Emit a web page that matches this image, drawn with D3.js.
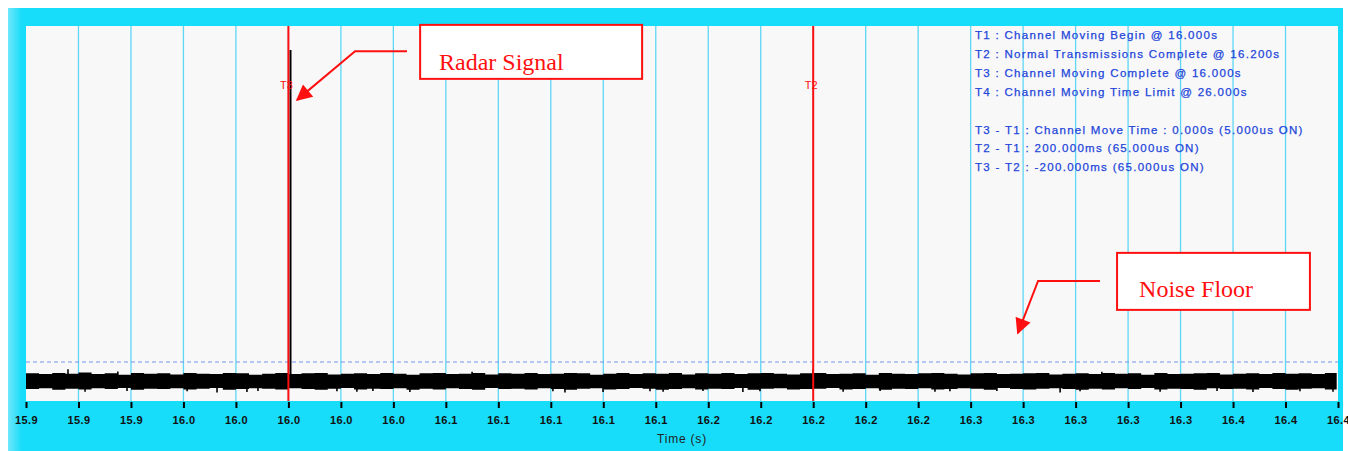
<!DOCTYPE html>
<html>
<head>
<meta charset="utf-8">
<script src="https://cdn.jsdelivr.net/npm/d3@7"></script>
<style>
    body { margin: 0; background: #fff; }
    svg { display: block; }
</style>
</head>
<body>
<div id="chart"></div>
<script>
// time axis (s)
const timeDomain = [15.90, 16.40];
const tickTimes = [15.90, 15.92, 15.94, 15.96, 15.98, 16.00, 16.02, 16.04, 16.06, 16.08,
                   16.10, 16.12, 16.14, 16.16, 16.18, 16.20, 16.22, 16.24, 16.26, 16.28,
                   16.30, 16.32, 16.34, 16.36, 16.38, 16.40];
const tickLabels = ["15.9", "15.9", "15.9", "16.0", "16.0", "16.0", "16.0", "16.0", "16.1", "16.1",
                    "16.1", "16.1", "16.1", "16.2", "16.2", "16.2", "16.2", "16.2", "16.3", "16.3",
                    "16.3", "16.3", "16.3", "16.4", "16.4", "16.4"];

// event markers
const markerNames = ["T3", "T2"];
const markerTimes = [16.000, 16.200];

// signal level (0 = bottom of plot, 100 = top)
const thresholdLevel = 10.4;
const radarTime = 16.0008;
const radarLevel = 93.6;

// noise floor envelope, one pair every 5 ms from 15.900 s
const sampleStep = 0.005;
const noiseTop = [7.4, 7.2, 7.5, 7.3, 7.6, 7.2, 7.4, 7.0, 7.5, 7.3,
                  7.4, 7.1, 7.5, 7.3, 7.2, 7.5, 7.4, 7.0, 7.3, 7.5,
                  7.2, 7.4, 7.5, 7.1, 7.3, 7.4, 7.2, 7.5, 7.3, 7.0,
                  7.4, 7.5, 7.2, 7.3, 7.5, 7.1, 7.4, 7.3, 7.5, 7.2,
                  7.3, 7.5, 7.4, 7.0, 7.3, 7.5, 7.2, 7.4, 7.3, 7.5,
                  7.1, 7.4, 7.3, 7.5, 7.2, 7.4, 7.5, 7.3, 7.1, 7.4,
                  7.5, 7.2, 7.3, 7.4, 7.0, 7.5, 7.3, 7.2, 7.4, 7.5,
                  7.3, 7.1, 7.4, 7.5, 7.2, 7.3, 7.4, 7.5, 7.1, 7.3,
                  7.4, 7.2, 7.5, 7.3, 7.4, 7.0, 7.5, 7.2, 7.3, 7.4,
                  7.5, 7.1, 7.3, 7.4, 7.2, 7.5, 7.3, 7.4, 7.2, 7.5,
                  7.3];
const noiseBottom = [3.2, 3.4, 3.0, 3.3, 3.1, 3.4, 3.2, 3.5, 3.0, 3.3,
                     3.2, 3.4, 3.1, 3.3, 3.5, 3.0, 3.2, 3.4, 3.3, 3.1,
                     3.4, 3.2, 3.0, 3.3, 3.5, 3.1, 3.3, 3.2, 3.4, 3.0,
                     3.3, 3.1, 3.4, 3.2, 3.0, 3.5, 3.2, 3.3, 3.1, 3.4,
                     3.2, 3.0, 3.3, 3.4, 3.1, 3.2, 3.5, 3.3, 3.0, 3.2,
                     3.4, 3.1, 3.3, 3.2, 3.5, 3.0, 3.3, 3.4, 3.1, 3.2,
                     3.3, 3.5, 3.1, 3.2, 3.4, 3.0, 3.3, 3.2, 3.4, 3.1,
                     3.2, 3.4, 3.3, 3.0, 3.5, 3.2, 3.1, 3.3, 3.4, 3.2,
                     3.0, 3.3, 3.1, 3.4, 3.2, 3.5, 3.1, 3.3, 3.2, 3.0,
                     3.4, 3.2, 3.3, 3.1, 3.5, 3.2, 3.0, 3.3, 3.4, 3.1,
                     3.3];

// short excursions out of the noise band
const dipTimes = [15.9225, 15.9385, 15.9614, 15.9728, 15.9842, 15.9884, 16.0185, 16.0261, 16.0322, 16.0463,
                  16.1008, 16.1054, 16.1199, 16.1378, 16.1428, 16.1580, 16.1732, 16.1797, 16.2114, 16.2255,
                  16.2464, 16.2521, 16.2700, 16.2941, 16.3017, 16.3322, 16.3539, 16.3676, 16.3855, 16.3981];
const dipLevels = [2.5, 2.7, 2.6, 2.3, 2.4, 2.7, 2.6, 2.5, 2.7, 2.4,
                   2.6, 2.3, 2.4, 2.6, 2.5, 2.7, 2.4, 2.6, 2.5, 2.7,
                   2.5, 2.6, 2.7, 2.3, 2.6, 2.5, 2.7, 2.4, 2.6, 2.5];
const spikeTimes = [15.9160, 15.9350, 16.0700, 16.1999, 16.3100];
const spikeLevels = [8.5, 7.9, 7.8, 8.5, 7.8];

const infoLines = [
    "T1 : Channel Moving Begin @ 16.000s",
    "T2 : Normal Transmissions Complete @ 16.200s",
    "T3 : Channel Moving Complete @ 16.000s",
    "T4 : Channel Moving Time Limit @ 26.000s",
    "",
    "T3 - T1 : Channel Move Time : 0.000s (5.000us ON)",
    "T2 - T1 : 200.000ms (65.000us ON)",
    "T3 - T2 : -200.000ms (65.000us ON)"
];

function renderChart() {
    const width = 1348;
    const height = 451;
    const plot = { left: 26, top: 26, right: 1338, bottom: 401 };
    const cyan = "#17dcfa";
    const red = "#ff1010";

    const x = d3.scaleLinear().domain(timeDomain).range([plot.left, plot.right]);
    const y = d3.scaleLinear().domain([0, 100]).range([plot.bottom, plot.top]);

    const svg = d3.select("#chart").append("svg")
        .attr("width", width)
        .attr("height", height)
        .style("font-family", "'Liberation Sans', Arial, sans-serif");

    const defs = svg.append("defs");
    const grad = defs.append("linearGradient").attr("id", "edge");
    grad.append("stop").attr("offset", "0%").attr("stop-color", "#6fe7fb");
    grad.append("stop").attr("offset", "100%").attr("stop-color", cyan);
    defs.append("marker")
        .attr("id", "head")
        .attr("markerUnits", "userSpaceOnUse")
        .attr("viewBox", "0 0 10 10")
        .attr("refX", 9).attr("refY", 5)
        .attr("markerWidth", 21).attr("markerHeight", 16)
        .attr("orient", "auto")
        .append("path")
        .attr("d", "M0,0 L10,5 L0,10 Z")
        .attr("fill", red);

    // frame
    svg.append("rect").attr("x", 8).attr("y", 8).attr("width", 1335).attr("height", height - 8)
        .attr("fill", cyan);
    svg.append("rect").attr("x", 8).attr("y", 8).attr("width", 14).attr("height", height - 8)
        .attr("fill", "url(#edge)");
    svg.append("rect")
        .attr("x", plot.left).attr("y", plot.top)
        .attr("width", plot.right - plot.left).attr("height", plot.bottom - plot.top)
        .attr("fill", "#f8f8f8");

    // vertical grid
    svg.append("g")
        .selectAll("line")
        .data(tickTimes.slice(1, -1))
        .join("line")
        .attr("x1", d => x(d)).attr("x2", d => x(d))
        .attr("y1", plot.top).attr("y2", plot.bottom)
        .attr("stroke", "#5ed6f5")
        .attr("stroke-width", 1.3);

    // threshold
    svg.append("line")
        .attr("x1", plot.left).attr("x2", plot.right)
        .attr("y1", y(thresholdLevel)).attr("y2", y(thresholdLevel))
        .attr("stroke", "#7592ec")
        .attr("stroke-width", 1)
        .attr("stroke-dasharray", "4,3");

    // noise floor
    const samples = noiseTop.map((v, i) => ({
        t: Math.min(timeDomain[0] + i * sampleStep, 16.3995),
        hi: v,
        lo: noiseBottom[i]
    }));
    svg.append("path")
        .datum(samples)
        .attr("fill", "#000")
        .attr("d", d3.area()
            .curve(d3.curveStepAfter)
            .x(d => x(d.t))
            .y0(d => y(d.lo))
            .y1(d => y(d.hi)));

    svg.append("g")
        .selectAll("line")
        .data(dipTimes.map((t, i) => ({ t, v: dipLevels[i] })))
        .join("line")
        .attr("x1", d => x(d.t)).attr("x2", d => x(d.t))
        .attr("y1", y(4)).attr("y2", d => y(d.v))
        .attr("stroke", "#000").attr("stroke-width", 1.6);

    svg.append("g")
        .selectAll("line")
        .data(spikeTimes.map((t, i) => ({ t, v: spikeLevels[i] })))
        .join("line")
        .attr("x1", d => x(d.t)).attr("x2", d => x(d.t))
        .attr("y1", y(6)).attr("y2", d => y(d.v))
        .attr("stroke", "#000").attr("stroke-width", 1.6);

    // radar pulse
    svg.append("line")
        .attr("x1", x(radarTime)).attr("x2", x(radarTime))
        .attr("y1", y(5)).attr("y2", y(radarLevel))
        .attr("stroke", "#000").attr("stroke-width", 2);

    // event markers
    const mk = svg.append("g")
        .selectAll("g")
        .data(markerTimes.map((t, i) => ({ t, name: markerNames[i] })))
        .join("g");
    mk.append("line")
        .attr("x1", d => x(d.t)).attr("x2", d => x(d.t))
        .attr("y1", plot.top).attr("y2", plot.bottom)
        .attr("stroke", red).attr("stroke-width", 2);
    mk.append("text")
        .attr("x", d => x(d.t) - 2)
        .attr("y", 89)
        .attr("text-anchor", "middle")
        .attr("font-size", 11)
        .attr("fill", red)
        .text(d => d.name);

    // x axis
    const axis = d3.axisBottom(x)
        .tickValues(tickTimes)
        .tickFormat((d, i) => tickLabels[i])
        .tickSizeInner(6)
        .tickSizeOuter(0)
        .tickPadding(8);
    const gx = svg.append("g")
        .attr("transform", `translate(0,${plot.bottom + 1})`)
        .call(axis);
    gx.select(".domain").remove();
    gx.selectAll(".tick line").attr("stroke", "#000").attr("stroke-width", 2);
    gx.selectAll(".tick text")
        .attr("fill", "#111")
        .attr("font-size", 11)
        .attr("font-weight", "bold")
        .attr("letter-spacing", 0.4)
        .attr("font-family", "'Liberation Sans', Arial, sans-serif");

    svg.append("text")
        .attr("x", (plot.left + plot.right) / 2)
        .attr("y", 443)
        .attr("text-anchor", "middle")
        .attr("font-size", 12)
        .attr("letter-spacing", 0.8)
        .attr("fill", "#222")
        .text("Time (s)");

    // info block
    svg.append("g")
        .selectAll("text")
        .data(infoLines)
        .join("text")
        .attr("x", 975)
        .attr("y", (d, i) => 39 + i * 18.9)
        .attr("font-size", 11.5)
        .attr("letter-spacing", 1.3)
        .attr("fill", "#2245da")
        .attr("stroke", "#2245da")
        .attr("stroke-width", 0.25)
        .text(d => d);

    // callouts
    const callouts = [
        { text: "Radar Signal", box: [16.0502, 16.1348, 100.3, 85.9], textT: 16.0574, textV: 88.3,
          path: [[16.0452, 93.3], [16.0254, 93.3], [16.0033, 80.3]] },
        { text: "Noise Floor", box: [16.3158, 16.3893, 39.5, 24.3], textT: 16.3242, textV: 27.8,
          path: [[16.3093, 32.0], [16.2857, 32.0], [16.2780, 18.1]] }
    ];
    const co = svg.append("g").selectAll("g").data(callouts).join("g");
    co.append("rect")
        .attr("x", d => x(d.box[0])).attr("y", d => y(d.box[2]))
        .attr("width", d => x(d.box[1]) - x(d.box[0]))
        .attr("height", d => y(d.box[3]) - y(d.box[2]))
        .attr("fill", "#fff")
        .attr("stroke", red).attr("stroke-width", 2);
    co.append("text")
        .attr("x", d => x(d.textT)).attr("y", d => y(d.textV))
        .attr("font-family", "'Liberation Serif', 'Times New Roman', serif")
        .attr("font-size", 24)
        .attr("fill", red)
        .text(d => d.text);
    co.append("path")
        .attr("d", d => d3.line().x(p => x(p[0])).y(p => y(p[1]))(d.path))
        .attr("fill", "none")
        .attr("stroke", red).attr("stroke-width", 2)
        .attr("marker-end", "url(#head)");
}

renderChart();
</script>
</body>
</html>
